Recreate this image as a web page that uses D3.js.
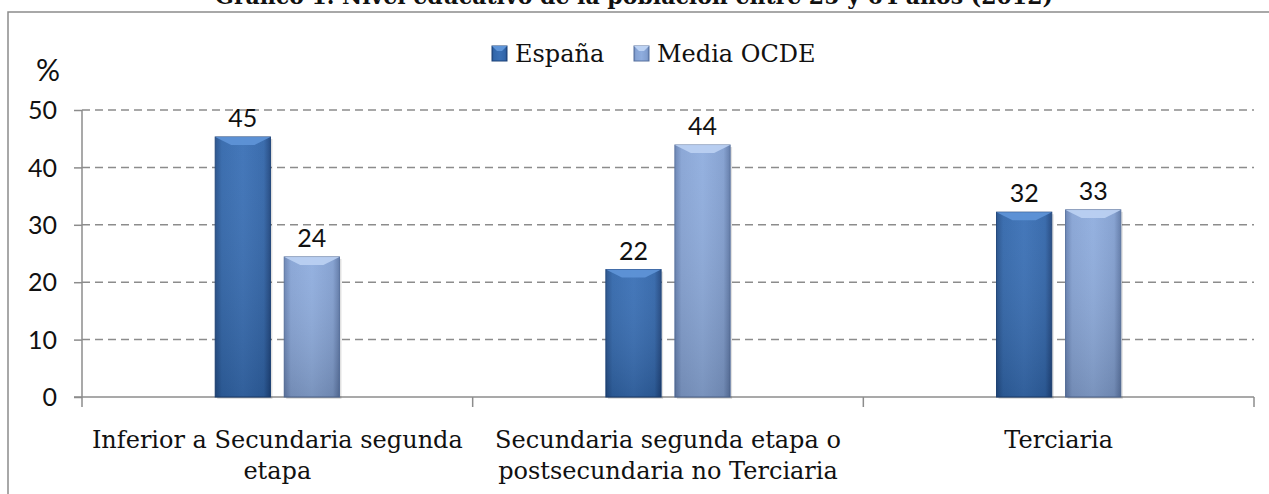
<!DOCTYPE html>
<html>
<head>
<meta charset="utf-8">
<script src="https://cdn.jsdelivr.net/npm/d3@7"></script>
<style>
  body { margin: 0; background: #fff; }
  svg { display: block; }
</style>
</head>
<body>
<svg id="chart" width="1269" height="494"></svg>
<script>
// datos
const categories = [
  ["Inferior a Secundaria segunda", "etapa"],
  ["Secundaria segunda etapa o", "postsecundaria no Terciaria"],
  ["Terciaria"]
];
const series = ["España", "Media OCDE"];
const espana = [45.3, 22.2, 32.2];
const mediaOcde = [24.4, 43.9, 32.6];
const yTicks = [0, 10, 20, 30, 40, 50];
const title = "Gráfico 1. Nivel educativo de la población entre 25 y 64 años (2012)";

const svg = d3.select("#chart");
const margin = { left: 82, right: 1254, top: 110, bottom: 397 };

const x = d3.scaleBand()
  .domain(d3.range(categories.length))
  .range([margin.left, margin.right])
  .paddingInner(0).paddingOuter(0);

const y = d3.scaleLinear().domain([0, 50]).range([margin.bottom, margin.top]);

const xs = d3.scaleBand().domain(series).range([0, x.bandwidth()]).paddingInner(0.2).paddingOuter(1.93);

// gradientes
const defs = svg.append("defs");
function grad(id, stops) {
  const g = defs.append("linearGradient").attr("id", id).attr("x1", 0).attr("x2", 1).attr("y1", 0).attr("y2", 0);
  stops.forEach(s => g.append("stop").attr("offset", s[0]).attr("stop-color", s[1]));
}
grad("gEsp", [[0, "#244f8a"], [0.12, "#3267ab"], [0.5, "#3a70b6"], [0.88, "#3165a9"], [1, "#1f4680"]]);
grad("gOcde", [[0, "#6782b3"], [0.12, "#86a3d4"], [0.5, "#8fadde"], [0.88, "#819ecf"], [1, "#5f79a8"]]);
const gv = defs.append("linearGradient").attr("id", "shade").attr("x1", 0).attr("x2", 0).attr("y1", 0).attr("y2", 1);
gv.append("stop").attr("offset", 0).attr("stop-color", "#fff").attr("stop-opacity", 0.05);
gv.append("stop").attr("offset", 1).attr("stop-color", "#000").attr("stop-opacity", 0.15);

const colors = { "España": ["url(#gEsp)", "#1c4278", "#5f95d8"], "Media OCDE": ["url(#gOcde)", "#56709e", "#bcd2f3"] };

// marco exterior
svg.append("path")
  .attr("d", "M8,494 V12 H1269")
  .attr("fill", "none").attr("stroke", "#8c8c8c").attr("stroke-width", 1.5);

// titulo cortado arriba (como en el original)
svg.append("text")
  .attr("x", 634).attr("y", 4)
  .attr("text-anchor", "middle")
  .attr("font-family", "DejaVu Serif")
  .attr("font-weight", "bold")
  .attr("font-size", 22)
  .attr("fill", "#111")
  .text(title);

// rejilla
svg.append("g").selectAll("line")
  .data(yTicks.filter(d => d > 0))
  .join("line")
  .attr("x1", margin.left).attr("x2", margin.right)
  .attr("y1", d => y(d)).attr("y2", d => y(d))
  .attr("stroke", "#8c8c8c").attr("stroke-width", 1.5)
  .attr("stroke-dasharray", "8,5");

// eje y
const yAxis = svg.append("g")
  .attr("transform", `translate(${margin.left},0)`)
  .call(d3.axisLeft(y).tickValues(yTicks).tickSize(8).tickPadding(17));
yAxis.select(".domain").attr("stroke", "#8c8c8c").attr("stroke-width", 1.5).attr("d", `M0,${y(50)}V${y(0) + 10}`);
yAxis.selectAll(".tick line").attr("stroke", "#8c8c8c").attr("stroke-width", 1.5);
yAxis.selectAll(".tick text").attr("font-family", "Lato, sans-serif").attr("font-size", 25).attr("fill", "#111").attr("dy", "0.35em");

svg.append("text")
  .attr("x", 48).attr("y", 81)
  .attr("text-anchor", "middle")
  .attr("font-family", "Lato, sans-serif").attr("font-size", 30).attr("fill", "#111")
  .text("%");

// eje x
svg.append("line")
  .attr("x1", margin.left - 8).attr("x2", margin.right)
  .attr("y1", y(0)).attr("y2", y(0))
  .attr("stroke", "#8c8c8c").attr("stroke-width", 1.5);
svg.append("g").selectAll("line")
  .data(d3.range(1, categories.length + 1))
  .join("line")
  .attr("x1", d => x(d - 1) + x.bandwidth()).attr("x2", d => x(d - 1) + x.bandwidth())
  .attr("y1", y(0)).attr("y2", y(0) + 10)
  .attr("stroke", "#8c8c8c").attr("stroke-width", 1.5);

// etiquetas de categoria
svg.append("g").selectAll("text")
  .data(categories)
  .join("text")
  .attr("x", (d, i) => x(i) + x.bandwidth() / 2)
  .attr("y", 448)
  .attr("text-anchor", "middle")
  .attr("font-family", "DejaVu Serif")
  .attr("font-size", 24)
  .attr("fill", "#111")
  .selectAll("tspan")
  .data(d => d)
  .join("tspan")
  .attr("x", function () { return this.parentNode.getAttribute("x"); })
  .attr("dy", (d, i) => i === 0 ? 0 : 31)
  .text(d => d);

// barras
const rows = categories.map((c, i) => ({ i, vals: [espana[i], mediaOcde[i]] }));
const bw = xs.bandwidth();
const bev = 8;
rows.forEach(r => {
  series.forEach((s, k) => {
    const v = r.vals[k];
    const x0 = x(r.i) + xs(s);
    const y0 = y(v);
    const h = y(0) - y0;
    const g = svg.append("g");
    g.append("rect")
      .attr("x", x0 + 2).attr("y", y0 + 2).attr("width", bw).attr("height", h)
      .attr("fill", "#000").attr("opacity", 0.12);
    g.append("rect")
      .attr("x", x0).attr("y", y0).attr("width", bw).attr("height", h)
      .attr("fill", colors[s][0]).attr("stroke", colors[s][1]).attr("stroke-width", 1);
    g.append("rect")
      .attr("x", x0).attr("y", y0).attr("width", bw).attr("height", h)
      .attr("fill", "url(#shade)");
    // bisel superior
    g.append("path")
      .attr("d", `M${x0},${y0} H${x0 + bw} L${x0 + bw - bev * 2},${y0 + bev} H${x0 + bev * 2} Z`)
      .attr("fill", colors[s][2]).attr("opacity", 0.9);
    // etiqueta
    svg.append("text")
      .attr("x", x0 + bw / 2).attr("y", y0 - 10)
      .attr("text-anchor", "middle")
      .attr("font-family", "Lato, sans-serif").attr("font-size", 25).attr("fill", "#111")
      .text(d3.format(".0f")(v));
  });
});

// leyenda
const legend = svg.append("g");
const legendX = [492, 634];
series.forEach((s, k) => {
  const lg = legend.append("g").attr("transform", `translate(${legendX[k]},46)`);
  lg.append("rect").attr("width", 15).attr("height", 15)
    .attr("fill", colors[s][0]).attr("stroke", colors[s][1]);
  lg.append("path").attr("d", "M0,0 H15 L10,5 H5 Z").attr("fill", colors[s][2]);
  lg.append("text").attr("x", 23).attr("y", 16)
    .attr("font-family", "DejaVu Serif").attr("font-size", 24).attr("fill", "#111")
    .text(s);
});
</script>
</body>
</html>
